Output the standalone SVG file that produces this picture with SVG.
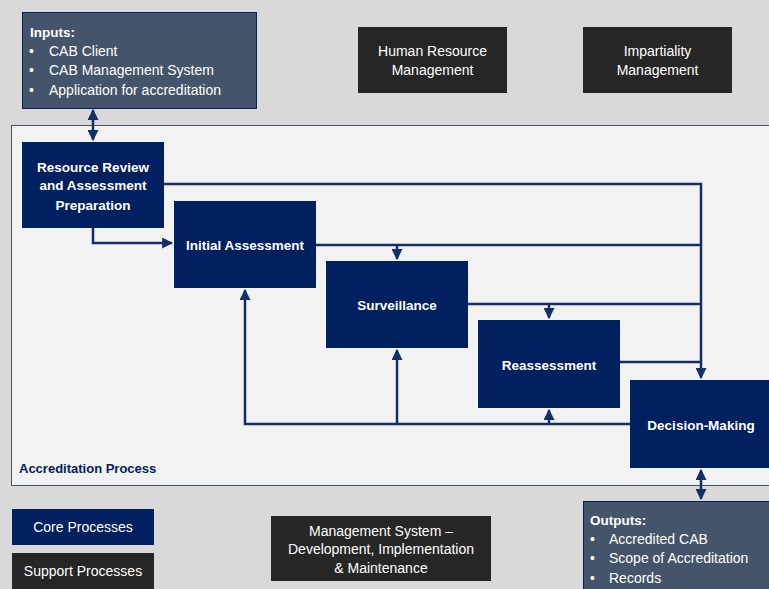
<svg xmlns="http://www.w3.org/2000/svg" width="769" height="589" viewBox="0 0 769 589">
<defs>
<style>
.t{font-family:"Liberation Sans",Arial,sans-serif;font-size:14px;fill:#ffffff}
.b{font-family:"Liberation Sans",Arial,sans-serif;font-size:13.5px;font-weight:bold;fill:#ffffff}
.core{fill:#002060}
.sup{fill:#262626}
.io{fill:#44546a;stroke:#002060;stroke-width:1}
.c{fill:none;stroke:#142f66;stroke-width:2.5}
</style>
<marker id="ah" viewBox="0 0 10 10" refX="9" refY="5" markerWidth="4.4" markerHeight="4.4" orient="auto-start-reverse">
<path d="M0,0 L10,5 L0,10 z" fill="#142f66"/>
</marker>
</defs>
<rect width="769" height="589" fill="#d9d9d9"/>
<g id="accreditation-process">
<rect x="11.5" y="125.5" width="760" height="360" fill="#f2f2f2" stroke="#44546a" stroke-width="1"/>
<text x="19" y="473" style="font-family:'Liberation Sans',Arial,sans-serif;font-size:13px;font-weight:bold;fill:#002060">Accreditation Process</text>
</g>
<g id="inputs">
<rect class="io" x="22.5" y="12.5" width="234" height="96"/>
<text class="t" x="30" y="37" style="font-weight:bold;font-size:13.5px">Inputs:</text>
<text class="t" x="29" y="56">•</text><text class="t" x="49" y="56">CAB Client</text>
<text class="t" x="29" y="75">•</text><text class="t" x="49" y="75">CAB Management System</text>
<text class="t" x="29" y="95">•</text><text class="t" x="49" y="95">Application for accreditation</text>
</g>
<g id="hr-management">
<rect class="sup" x="358" y="27" width="149" height="66"/>
<text class="t" x="432.5" y="56" text-anchor="middle">Human Resource</text>
<text class="t" x="432.5" y="75" text-anchor="middle">Management</text>
</g>
<g id="impartiality-management">
<rect class="sup" x="583" y="27" width="149" height="66"/>
<text class="t" x="657.5" y="56" text-anchor="middle">Impartiality</text>
<text class="t" x="657.5" y="75" text-anchor="middle">Management</text>
</g>
<g id="connectors">
<line class="c" x1="93" y1="110" x2="93" y2="140" marker-start="url(#ah)" marker-end="url(#ah)"/>
<polyline class="c" points="93,228 93,243 172,243" marker-end="url(#ah)"/>
<polyline class="c" points="164,184 701,184 701,378" marker-end="url(#ah)"/>
<line class="c" x1="316" y1="245" x2="701" y2="245"/>
<line class="c" x1="397" y1="245" x2="397" y2="259" marker-end="url(#ah)"/>
<line class="c" x1="468" y1="304" x2="701" y2="304"/>
<line class="c" x1="549" y1="304" x2="549" y2="318" marker-end="url(#ah)"/>
<line class="c" x1="620" y1="362" x2="701" y2="362"/>
<polyline class="c" points="630,424 245,424 245,290" marker-end="url(#ah)"/>
<line class="c" x1="397" y1="424" x2="397" y2="350" marker-end="url(#ah)"/>
<line class="c" x1="549" y1="424" x2="549" y2="410" marker-end="url(#ah)"/>
<line class="c" x1="701" y1="470" x2="701" y2="499" marker-start="url(#ah)" marker-end="url(#ah)"/>
</g>
<g id="resource-review">
<rect class="core" x="22" y="142" width="142" height="86"/>
<text class="b" x="93" y="172" text-anchor="middle">Resource Review</text>
<text class="b" x="93" y="190" text-anchor="middle">and Assessment</text>
<text class="b" x="93" y="210" text-anchor="middle">Preparation</text>
</g>
<g id="initial-assessment">
<rect class="core" x="174" y="201" width="142" height="87"/>
<text class="b" x="245" y="250" text-anchor="middle">Initial Assessment</text>
</g>
<g id="surveillance">
<rect class="core" x="326" y="261" width="142" height="87"/>
<text class="b" x="397" y="310" text-anchor="middle">Surveillance</text>
</g>
<g id="reassessment">
<rect class="core" x="478" y="320" width="142" height="88"/>
<text class="b" x="549" y="370" text-anchor="middle">Reassessment</text>
</g>
<g id="decision-making">
<rect class="core" x="630" y="380" width="142" height="88"/>
<text class="b" x="701" y="430" text-anchor="middle">Decision-Making</text>
</g>
<g id="outputs">
<rect class="io" x="583.5" y="501.5" width="190" height="92"/>
<text class="t" x="590" y="525" style="font-weight:bold;font-size:13.5px">Outputs:</text>
<text class="t" x="590" y="544">•</text><text class="t" x="609" y="544">Accredited CAB</text>
<text class="t" x="590" y="563">•</text><text class="t" x="609" y="563">Scope of Accreditation</text>
<text class="t" x="590" y="583">•</text><text class="t" x="609" y="583">Records</text>
</g>
<g id="core-processes">
<rect class="core" x="12" y="509" width="142" height="36"/>
<text class="t" x="83" y="532" text-anchor="middle">Core Processes</text>
</g>
<g id="support-processes">
<rect class="sup" x="12" y="553" width="142" height="40"/>
<text class="t" x="83" y="576" text-anchor="middle">Support Processes</text>
</g>
<g id="management-system">
<rect class="sup" x="271" y="516" width="220" height="65"/>
<text class="t" x="381" y="536" text-anchor="middle">Management System –</text>
<text class="t" x="381" y="554" text-anchor="middle">Development, Implementation</text>
<text class="t" x="381" y="573" text-anchor="middle">&amp; Maintenance</text>
</g>
</svg>
